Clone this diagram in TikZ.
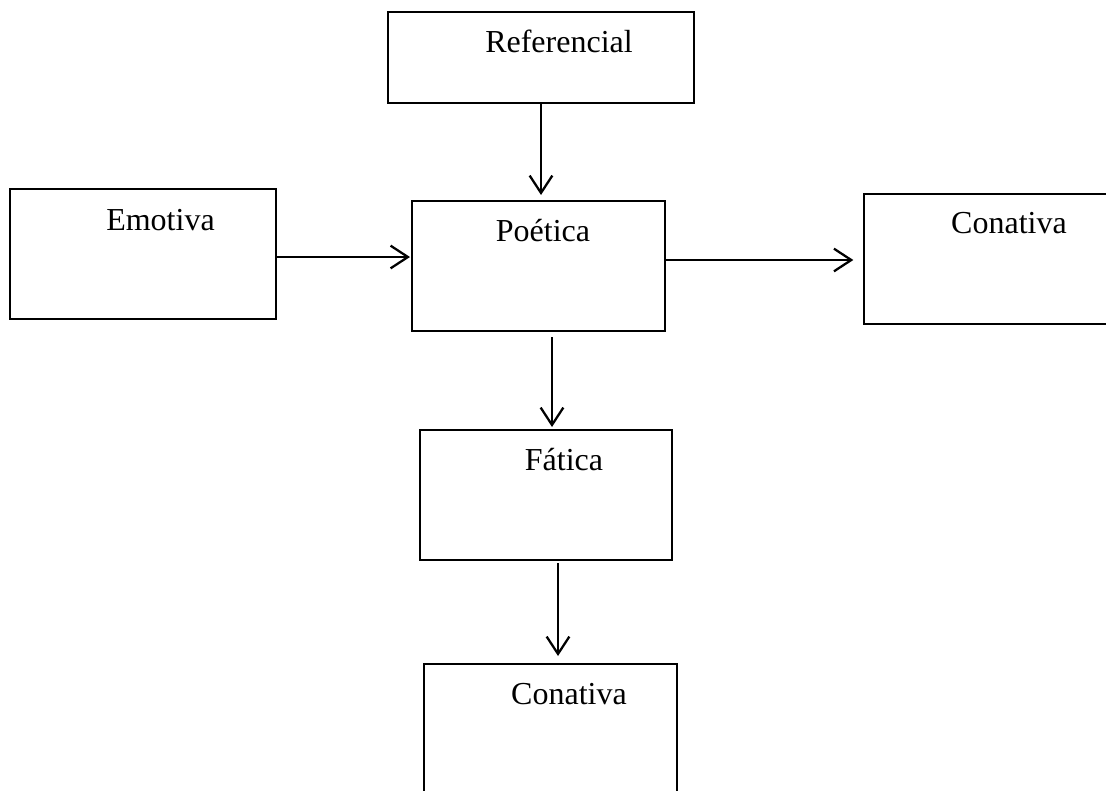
\documentclass[tikz,border=0pt]{standalone}
\usepackage{fontspec}
\setmainfont{Liberation Serif}
\usetikzlibrary{arrows.meta}
\begin{document}
\begin{tikzpicture}[x=0.75pt,y=-0.75pt,
  box/.style={draw=black,line width=1pt,rectangle,inner sep=0pt,outer sep=0pt},
  lbl/.style={anchor=base,inner sep=0pt,font=\fontsize{24}{28}\selectfont},
  arr/.style={line width=1.7pt,-{Straight Barb[length=13pt,width=17pt,line width=1.7pt]}}]
\useasboundingbox (0,0) rectangle (1106,790);
\clip (0,0) rectangle (1106,790);
% boxes
\node[box,minimum width=229.5pt,minimum height=68.25pt] (ref) at (541,57.5) {};
\node[box,minimum width=199.5pt,minimum height=97.5pt] (emo) at (143,254) {};
\node[box,minimum width=189.75pt,minimum height=97.5pt] (poe) at (538.5,266) {};
\node[box,minimum width=184.5pt,minimum height=97.5pt] (con1) at (987,259) {};
\node[box,minimum width=189pt,minimum height=97.5pt] (fat) at (546,495) {};
\node[box,minimum width=189.75pt,minimum height=101.25pt] (con2) at (550.5,731.5) {};
% labels
\node[lbl] (tref) at (559,52) {Referencial};
\node[lbl] (temo) at (160.5,230) {Emotiva};
\node[lbl] (tpoe) at (543,241) {Poética};
\node[lbl] (tcon1) at (1009,233) {Conativa};
\node[lbl] (tfat) at (564,470) {Fática};
\node[lbl] (tcon2) at (569,704) {Conativa};
% arrows
\draw[arr,shorten >=4.5pt] (ref.south) -- (poe.north -| ref.south);
\draw[arr,shorten >=1.5pt] (emo.east |- 0,257) -- (poe.west |- 0,257);
\draw[arr,shorten >=8pt] (poe.east |- 0,260) -- (con1.west |- 0,260);
\draw[arr,shorten <=4.5pt,shorten >=2.25pt] (poe.south -| 552,0) -- (fat.north -| 552,0);
\draw[arr,shorten <=2.25pt,shorten >=6pt] (fat.south -| 558,0) -- (con2.north -| 558,0);
\end{tikzpicture}
\end{document}
